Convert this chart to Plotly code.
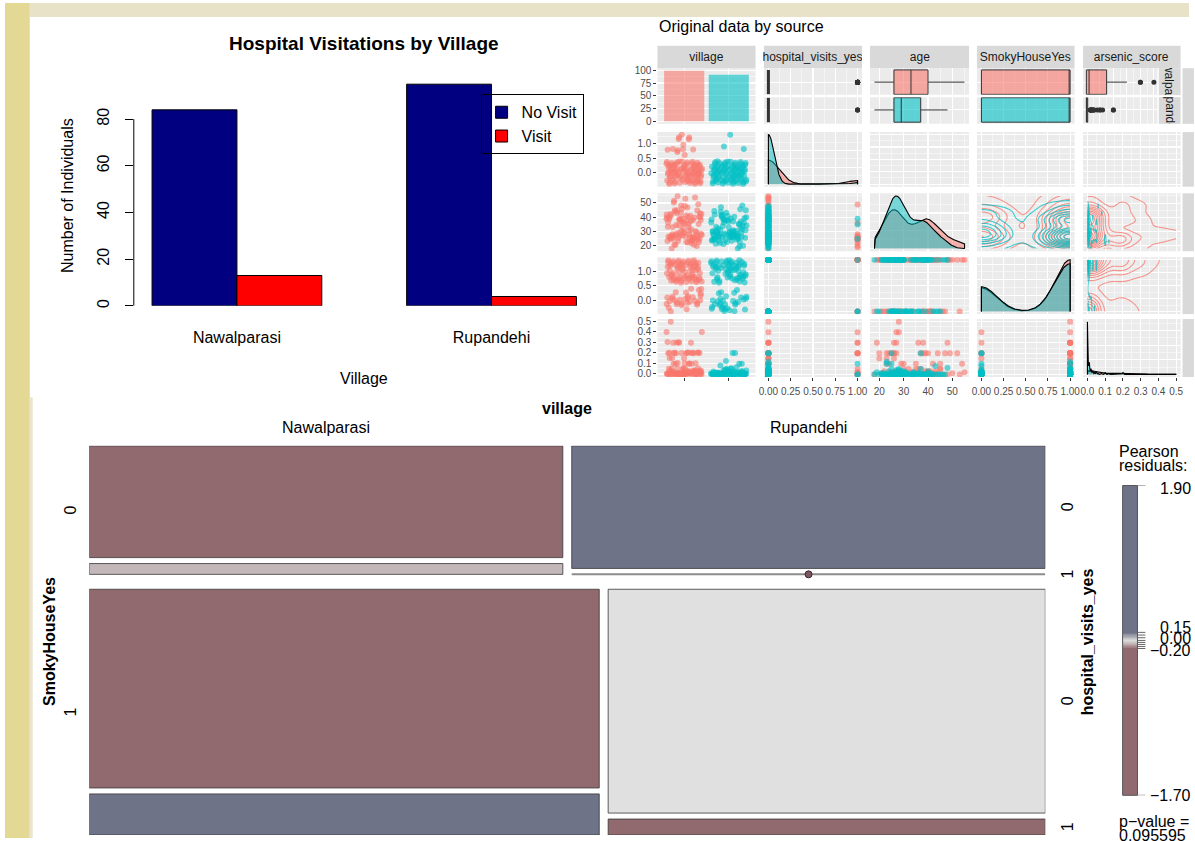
import numpy as np
import plotly.graph_objects as go

W, H = 1195, 841
FONT = "Liberation Sans, Arial, Helvetica, sans-serif"

# ============================ DATA ============================
# Bar chart: Hospital Visitations by Village
villages = ["Nawalparasi", "Rupandehi"]
no_visit = [84, 95]
visit = [13, 4]
bar_yticks = [0, 20, 40, 60, 80]

# Pairs plot: one entry per individual
nawal_age = [25, 40, 29, 22, 38, 26, 45, 33, 27, 41,
             24, 30, 39, 18, 35, 26, 48, 28, 40, 23,
             37, 25, 43, 31, 27, 50, 38, 24, 32, 21,
             42, 26, 29, 44, 39, 25, 36, 27, 40, 20,
             53, 28, 33, 24, 41, 45, 26, 30, 37, 23,
             39, 27, 47, 34, 25, 19, 40, 29, 42, 26,
             35, 38, 24, 49, 28, 43, 27, 22, 41, 30,
             33, 25, 37, 46, 26, 40, 21, 39, 52, 28,
             24, 35, 45, 27, 38, 29, 20, 42, 25, 48,
             34, 23, 40, 26, 43, 36, 54, 22, 55]
rup_age = [26, 31, 24, 38, 28, 40, 25, 33, 22, 36,
           27, 29, 44, 23, 35, 26, 41, 30, 19, 39,
           25, 28, 46, 27, 34, 24, 37, 29, 21, 42,
           26, 31, 38, 25, 48, 30, 27, 33, 20, 40,
           24, 29, 36, 26, 43, 28, 39, 27, 22, 32,
           25, 30, 41, 23, 45, 28, 37, 26, 34, 18,
           27, 31, 38, 25, 29, 47, 24, 35, 26, 40,
           30, 22, 28, 42, 27, 33, 23, 39, 44, 29,
           26, 36, 25, 31, 37, 28, 21, 34, 27, 38,
           30]
nawal_hosp = [int(ch) for ch in
              "0001000000" "1000000100" "0000100000" "0100000001" "0000001000"
              "0000010000" "0001000000" "0100000000" "1000000010" "000001000"]
rup_hosp = [int(ch) for ch in
            "0000000000" "0000100000" "0000000000" "0000000000" "0000000000"
            "1000000000" "0000000000" "0000000100" "0000000000" "0"]
nawal_smoky = [int(ch) for ch in
               "1101101110" "0110111011" "1011010111" "1101101101" "0111011010"
               "1101110110" "1011011101" "0110110111" "1101011011" "011011101"]
rup_smoky = [int(ch) for ch in
             "1011011010" "1101101101" "0110110110" "1011101101" "1101011010"
             "0111011011" "1010110111" "1101101010" "0110111011" "1"]
nawal_arsenic = [0.0, 0.2, 0.01, 0.0, 0.3, 0.02, 0.1, 0.0, 0.2, 0.03,
                 0.0, 0.05, 0.2, 0.0, 0.01, 0.15, 0.0, 0.4, 0.02, 0.1,
                 0.2, 0.0, 0.03, 0.0, 0.3, 0.01, 0.0, 0.2, 0.05, 0.0,
                 0.1, 0.02, 0.0, 0.2, 0.01, 0.0, 0.3, 0.03, 0.0, 0.2,
                 0.0, 0.5, 0.02, 0.1, 0.0, 0.05, 0.2, 0.01, 0.0, 0.15,
                 0.03, 0.0, 0.2, 0.02, 0.0, 0.3, 0.01, 0.1, 0.0, 0.2,
                 0.05, 0.0, 0.02, 0.2, 0.0, 0.01, 0.4, 0.03, 0.0, 0.1,
                 0.0, 0.2, 0.05, 0.0, 0.3, 0.02, 0.01, 0.0, 0.2, 0.03,
                 0.0, 0.1, 0.05, 0.0, 0.2, 0.01, 0.15, 0.0, 0.02, 0.3,
                 0.0, 0.2, 0.03, 0.01, 0.0, 0.05, 0.1, 0.0, 0.02]
rup_arsenic = [0.0, 0.01, 0.0, 0.0, 0.02, 0.0, 0.05, 0.0, 0.01, 0.0,
               0.0, 0.03, 0.0, 0.1, 0.0, 0.01, 0.0, 0.0, 0.02, 0.0,
               0.01, 0.0, 0.0, 0.04, 0.0, 0.0, 0.2, 0.0, 0.01, 0.0,
               0.0, 0.02, 0.0, 0.0, 0.06, 0.0, 0.01, 0.0, 0.0, 0.03,
               0.0, 0.0, 0.01, 0.0, 0.08, 0.0, 0.0, 0.02, 0.0, 0.0,
               0.1, 0.0, 0.01, 0.0, 0.0, 0.05, 0.0, 0.0, 0.02, 0.0,
               0.0, 0.01, 0.0, 0.2, 0.0, 0.0, 0.03, 0.0, 0.01, 0.0,
               0.0, 0.0, 0.04, 0.0, 0.01, 0.0, 0.12, 0.0, 0.0, 0.02,
               0.0, 0.01, 0.0, 0.0, 0.05, 0.0, 0.0, 0.01, 0.0, 0.0,
               0.03]

pair_keys = ["village", "hosp", "age", "smoky", "arsenic"]
pair_labels = ["village", "hospital_visits_yes", "age", "SmokyHouseYes", "arsenic_score"]
count_ticks = ([0, 25, 50, 75, 100], ["0", "25", "50", "75", "100"])
raw_ticks = {
    "village": ([1, 2], ["", ""]),
    "hosp": ([0, 0.25, 0.5, 0.75, 1], ["0.00", "0.25", "0.50", "0.75", "1.00"]),
    "age": ([20, 30, 40, 50], ["20", "30", "40", "50"]),
    "smoky": ([0, 0.25, 0.5, 0.75, 1], ["0.00", "0.25", "0.50", "0.75", "1.00"]),
    "arsenic": ([0, 0.1, 0.2, 0.3, 0.4, 0.5], ["0.0", "0.1", "0.2", "0.3", "0.4", "0.5"]),
}
jit_ticks = {
    "hosp": ([0, 0.5, 1], ["0.0", "0.5", "1.0"]),
    "age": ([20, 30, 40, 50], ["20", "30", "40", "50"]),
    "smoky": ([0, 0.5, 1], ["0.0", "0.5", "1.0"]),
    "arsenic": ([0, 0.1, 0.2, 0.3, 0.4, 0.5], ["0.0", "0.1", "0.2", "0.3", "0.4", "0.5"]),
}

# Mosaic: counts[SmokyHouseYes][village][hospital_visits_yes]
smoky_levels = ["0", "1"]
hosp_levels = ["0", "1"]
mosaic_counts = [[[31, 3], [34, 0]], [[58, 12], [56, 4]]]
mosaic_residuals = [[[-0.30, -0.07], [0.90, -1.70]], [[-0.50, 1.90], [0.00, -0.80]]]
legend_ticks = [1.90, 0.15, 0.00, -0.20, -1.70]
legend_minor_ticks = [0.10, 0.05, -0.05, -0.10, -0.15]
p_value = "0.095595"

# ============================ STYLE HELPERS ============================
RED, CYAN = "#F8766D", "#00BFC4"
SLATE, MAUVE, LGRAY = (110, 115, 135), (145, 106, 112), (224, 224, 224)


def rgba(hx, a):
    hx = hx.lstrip("#")
    return "rgba(%d,%d,%d,%.3f)" % (int(hx[0:2], 16), int(hx[2:4], 16), int(hx[4:6], 16), a)


def res_color(r):
    if r >= 0:
        f, tgt = min(r / 0.15, 1.0), SLATE
    else:
        f, tgt = min(-r / 0.20, 1.0), MAUVE
    c = [LGRAY[i] + f * (tgt[i] - LGRAY[i]) for i in range(3)]
    return "rgb(%d,%d,%d)" % tuple(int(round(v)) for v in c)


layout = {}
shapes, annotations, traces = [], [], []
axis_count = [0]


def new_axes(xpx, ypx, xa, ya):
    axis_count[0] += 1
    n = axis_count[0]
    s = "" if n == 1 else str(n)
    xa = dict(xa)
    ya = dict(ya)
    xa.update(domain=[xpx[0] / W, xpx[1] / W], anchor="y" + s)
    ya.update(domain=[1 - ypx[1] / H, 1 - ypx[0] / H], anchor="x" + s)
    layout["xaxis" + s] = xa
    layout["yaxis" + s] = ya
    return "x" + s, "y" + s


def ann(text, xpx, ypx, size, bold=False, angle=0, color="black", xanchor="center",
        yanchor="middle", **kw):
    d = dict(text=("<b>%s</b>" % text) if bold else text, x=xpx / W, y=1 - ypx / H,
             xref="paper", yref="paper", showarrow=False,
             font=dict(size=size, color=color, family=FONT), textangle=angle,
             xanchor=xanchor, yanchor=yanchor)
    d.update(kw)
    annotations.append(d)


def prect(x0, y0, x1, y1, color, layer="below", line=None):
    shapes.append(dict(type="rect", xref="paper", yref="paper", x0=x0 / W, x1=x1 / W,
                       y0=1 - y1 / H, y1=1 - y0 / H, fillcolor=color,
                       line=line or dict(width=0), layer=layer))


HIDDEN = dict(showgrid=False, zeroline=False, showline=False, showticklabels=False,
              ticks="", fixedrange=True)

# ============================ BACKGROUND ============================
prect(0, 0, 25, H, "#E3D995")
prect(25, 0, W, 14, "#E8E2C8")
prect(25, 397, 28, H, "#EAE5CF")

# ============================ BAR CHART ============================
bx, by = new_axes(
    (130, 600), (60, 305),
    dict(type="category", range=[-0.405, 1.424], showgrid=False, zeroline=False,
         showline=False, ticks="", tickfont=dict(size=16, color="black", family=FONT),
         ticklabelstandoff=20, fixedrange=True),
    dict(range=[0, 104.26], tickmode="array", tickvals=bar_yticks,
         ticktext=[str(v) for v in bar_yticks], tickangle=-90, ticks="outside", ticklen=8,
         tickwidth=1, tickcolor="black", showgrid=False, zeroline=False, showline=False,
         tickfont=dict(size=16, color="black", family=FONT), ticklabelstandoff=9,
         fixedrange=True))
traces.append(go.Bar(x=villages, y=no_visit, name="No Visit", xaxis=bx, yaxis=by,
                     marker=dict(color="#000080", line=dict(color="black", width=1)),
                     hoverinfo="skip"))
traces.append(go.Bar(x=villages, y=visit, name="Visit", xaxis=bx, yaxis=by,
                     marker=dict(color="#FF0000", line=dict(color="black", width=1)),
                     hoverinfo="skip"))
shapes.append(dict(type="line", xref="paper", yref=by, x0=130 / W, x1=130 / W,
                   y0=bar_yticks[0], y1=bar_yticks[-1], line=dict(color="black", width=1)))
ann("Hospital Visitations by Village", 362, 41, 19, bold=True)
ann("Village", 362, 378, 16)
ann("Number of Individuals", 63, 194, 16, angle=-90)

# ============================ PAIRS PLOT ============================
n_n = min(len(nawal_age), len(nawal_hosp), len(nawal_smoky), len(nawal_arsenic))
n_r = min(len(rup_age), len(rup_hosp), len(rup_smoky), len(rup_arsenic))
groups = [
    dict(name="Nawalparasi", color=RED, hosp=np.array(nawal_hosp[:n_n], float),
         age=np.array(nawal_age[:n_n], float), smoky=np.array(nawal_smoky[:n_n], float),
         arsenic=np.array(nawal_arsenic[:n_n], float)),
    dict(name="Rupandehi", color=CYAN, hosp=np.array(rup_hosp[:n_r], float),
         age=np.array(rup_age[:n_r], float), smoky=np.array(rup_smoky[:n_r], float),
         arsenic=np.array(rup_arsenic[:n_r], float)),
]
resolution = {"hosp": 1.0, "age": 1.0, "smoky": 1.0, "arsenic": 0.01}


def expand(lo, hi, f=0.05):
    d = (hi - lo) * f
    return [lo - d, hi + d]


def r2(n, offset):
    i = np.arange(n) + offset
    return ((0.5 + i * 0.7548776662) % 1.0) - 0.5, ((0.5 + i * 0.5698402910) % 1.0) - 0.5


def minors(br, rng):
    if len(br) < 2:
        return []
    step = br[1] - br[0]
    cand = [br[0] - step / 2] + [b + step / 2 for b in br]
    return [v for v in cand if rng[0] < v < rng[1]]


def nice_breaks(lo, hi):
    span = hi - lo
    raw = span / 4
    mag = 10 ** np.floor(np.log10(raw))
    step = 10 * mag
    for m in (1, 2, 2.5, 5, 10):
        if m * mag >= raw:
            step = m * mag
            break
    start = np.ceil(lo / step) * step
    return [float(v) for v in np.arange(start, hi + 1e-12, step)]


def paxis(rng, br, labels=None, show=False, minor=True):
    d = dict(range=rng, tickmode="array", tickvals=br,
             ticktext=labels if labels is not None else ["" for _ in br],
             showgrid=True, gridcolor="white", gridwidth=1.1, zeroline=False,
             showline=False, showticklabels=show, ticks="outside" if show else "",
             ticklen=3, tickwidth=1, tickcolor="#333333", tickangle=0,
             tickfont=dict(size=10, color="#4D4D4D", family=FONT), fixedrange=True)
    if minor:
        d["minor"] = dict(tickmode="array", tickvals=minors(br, rng), showgrid=True,
                          gridcolor="white", gridwidth=0.5, ticks="")
    return d


def bw_nrd0(x):
    sd = np.std(x, ddof=1)
    q = np.percentile(x, [25, 75])
    lo = min(sd, (q[1] - q[0]) / 1.34)
    if lo <= 0:
        lo = sd if sd > 0 else 1.0
    return 0.9 * lo * len(x) ** -0.2


def bw_nrd(x):
    sd = np.std(x, ddof=1)
    q = np.percentile(x, [25, 75])
    h = (q[1] - q[0]) / 1.34
    v = min(sd, h) if h > 0 else sd
    return 4 * 1.06 * v * len(x) ** -0.2


def kde1(x, grid, bw):
    return np.exp(-0.5 * ((grid[:, None] - x[None, :]) / bw) ** 2).sum(1) / (
        len(x) * bw * np.sqrt(2 * np.pi))


def kde2(x, y, xlim, ylim, n=100):
    hx, hy = bw_nrd(x) / 4, bw_nrd(y) / 4
    gx, gy = np.linspace(xlim[0], xlim[1], n), np.linspace(ylim[0], ylim[1], n)
    ax = np.exp(-0.5 * ((gx[:, None] - x[None, :]) / hx) ** 2) / (hx * np.sqrt(2 * np.pi))
    ay = np.exp(-0.5 * ((gy[:, None] - y[None, :]) / hy) ** 2) / (hy * np.sqrt(2 * np.pi))
    return gx, gy, ay @ ax.T / len(x)


num_keys = pair_keys[1:]
allv = {k: np.concatenate([g[k] for g in groups]) for k in num_keys}
data_lims = {k: [float(allv[k].min()), float(allv[k].max())] for k in num_keys}
rng = {k: expand(*data_lims[k]) for k in num_keys}
rng["village"] = [0.4, 2.6]

jit, jrng = {}, {}
for ri, k in enumerate(num_keys, start=1):
    for gi, g in enumerate(groups):
        jx, jy = r2(len(g[k]), 1000 * gi + 137 * ri)
        jit[(k, gi)] = (gi + 1 + 0.8 * jx, g[k] + 0.8 * resolution[k] * jy)
    ys = np.concatenate([jit[(k, gi)][1] for gi in range(2)])
    jrng[k] = expand(float(ys.min()), float(ys.max()))

col_x = [(658.5, 757.5), (766, 865), (873, 973), (981, 1079.5), (1088, 1186.5)]
row_y = [(65.7, 121.7), (130, 185), (191.7, 250), (256, 313.3), (318.3, 376.7)]
counts = [len(g["age"]) for g in groups]

for r in range(5):
    for c in range(5):
        kx, ky = pair_keys[c], pair_keys[r]
        xpx = col_x[c] if not (r == 0 and c == 4) else (col_x[4][0], 1163)
        ypx = row_y[r]
        xb, xl = raw_ticks[kx]
        xa = paxis(rng[kx], xb, xl, show=(r == 4), minor=(kx != "village"))
        if r == 4:
            xa["ticklabelstandoff"] = 2
        dens = None
        if r == 0:
            if c == 0:
                ya = paxis(expand(0, max(counts)), count_ticks[0], count_ticks[1], show=True)
            else:
                ya = paxis([-0.5, 1.5], [0, 1], None, False, minor=False)
        elif c == 0:
            yb, yl = jit_ticks[ky]
            ya = paxis(jrng[ky], yb, yl, show=True)
        elif r == c:
            grid = np.linspace(data_lims[ky][0], data_lims[ky][1], 512)
            dens = [kde1(g[ky], grid, bw_nrd0(g[ky])) for g in groups]
            dmax = max(float(d.max()) for d in dens)
            ya = paxis([-0.05 * dmax, 1.05 * dmax], nice_breaks(0, dmax), None, False)
        else:
            yb, yl = raw_ticks[ky]
            ya = paxis(rng[ky], yb, None, False)
        ax, ay = new_axes(xpx, ypx, xa, ya)
        shapes.append(dict(type="rect", xref=ax + " domain", yref=ay + " domain", x0=0, x1=1,
                           y0=0, y1=1, fillcolor="#EBEBEB", line=dict(width=0), layer="below"))

        if r == 0 and c == 0:
            traces.append(go.Bar(x=[1, 2], y=counts, width=[0.9, 0.9], xaxis=ax, yaxis=ay,
                                 marker=dict(color=[rgba(g["color"], 0.6) for g in groups],
                                             line=dict(width=0)),
                                 showlegend=False, hoverinfo="skip"))
        elif r == 0:
            degenerate = all(np.percentile(g[kx], 25) == np.percentile(g[kx], 75)
                             for g in groups)
            for gi, g in enumerate(groups):
                traces.append(go.Box(x=g[kx], y0=1 - gi, orientation="h", width=0.88,
                                     fillcolor=rgba(g["color"], 0.6),
                                     line=dict(color="#333333", width=3 if degenerate else 1),
                                     marker=dict(color="#333333", size=5),
                                     boxpoints="outliers", whiskerwidth=0, xaxis=ax,
                                     yaxis=ay, showlegend=False, hoverinfo="skip"))
            shapes.append(dict(type="line", xref=ax + " domain", yref=ay, x0=0, x1=1,
                               y0=0.5, y1=0.5, line=dict(color="white", width=2.5),
                               layer="above"))
        elif c == 0:
            for gi, g in enumerate(groups):
                xs, ys = jit[(ky, gi)]
                traces.append(go.Scatter(x=xs, y=ys, mode="markers", xaxis=ax, yaxis=ay,
                                         marker=dict(color=rgba(g["color"], 0.6), size=6),
                                         showlegend=False, hoverinfo="skip"))
        elif r == c:
            for gi, g in enumerate(groups):
                px_ = np.concatenate([[grid[0]], grid, [grid[-1]]])
                py_ = np.concatenate([[0], dens[gi], [0]])
                traces.append(go.Scatter(x=px_, y=py_, mode="lines", fill="toself",
                                         fillcolor=rgba(g["color"], 0.5),
                                         line=dict(color="black", width=1.1), xaxis=ax,
                                         yaxis=ay, showlegend=False, hoverinfo="skip"))
        elif r > c:
            for gi, g in enumerate(groups):
                traces.append(go.Scatter(x=g[kx], y=g[ky], mode="markers", xaxis=ax, yaxis=ay,
                                         marker=dict(color=rgba(g["color"], 0.6), size=6),
                                         showlegend=False, hoverinfo="skip"))
        elif r >= 2:
            for gi, g in enumerate(groups):
                gx, gy, z = kde2(g[kx], g[ky], data_lims[kx], data_lims[ky])
                zmax = float(z.max())
                col = rgba(g["color"], 0.75)
                traces.append(go.Contour(x=gx, y=gy, z=z, autocontour=False,
                                         contours=dict(coloring="lines", start=zmax * 0.04,
                                                       end=zmax * 0.98, size=zmax * 0.09,
                                                       showlabels=False),
                                         colorscale=[[0, col], [1, col]], showscale=False,
                                         line=dict(width=1.1), xaxis=ax, yaxis=ay,
                                         hoverinfo="skip"))
        else:
            # blank upper panel: an empty trace so the subplot (grey grid) is created
            traces.append(go.Scatter(x=[None], y=[None], mode="markers", xaxis=ax, yaxis=ay,
                                     showlegend=False, hoverinfo="skip"))

# strips
for c in range(5):
    prect(col_x[c][0], 43, col_x[c][1], 65.7, "#D9D9D9")
    ann(pair_labels[c], (col_x[c][0] + col_x[c][1]) / 2, 54.5, 12, color="#1A1A1A",
        width=col_x[c][1] - col_x[c][0], height=18)
for r in range(5):
    prect(1188.5, row_y[r][0], 1200, row_y[r][1], "#D9D9D9")
facet_y = [(65.7, 92.8), (94.8, 121.7)]
for gi, g in enumerate(groups):
    prect(1164.5, facet_y[gi][0], 1186.5, facet_y[gi][1], "#D9D9D9")
    ann(g["name"], 1175.5, (facet_y[gi][0] + facet_y[gi][1]) / 2, 12, color="#1A1A1A",
        angle=90, width=facet_y[gi][1] - facet_y[gi][0], height=18)
ann("Original data by source", 658, 24, 16, xanchor="left")

# ============================ MOSAIC ============================
mx, my = new_axes((85, 1050), (446, 838), dict(HIDDEN, range=[0, 1]),
                  dict(HIDDEN, range=[1, 0]))
gy1, gx2, gy3 = 15 / 392, 9 / 965, 6 / 392
N = sum(sum(sum(h) for h in v) for v in mosaic_counts)
tiles = []
y_cur = 0.0
row_centers = []
for s in range(2):
    ns = sum(sum(h) for h in mosaic_counts[s])
    hs = (1 - gy1) * ns / N
    row_centers.append(y_cur + hs / 2)
    x_cur = 0.0
    for v in range(2):
        nsv = sum(mosaic_counts[s][v])
        w = (1 - gx2) * nsv / ns
        hc = y_cur
        for h in range(2):
            ht = (hs - gy3) * mosaic_counts[s][v][h] / nsv
            tiles.append((s, v, h, x_cur, w, hc, ht))
            hc += ht + gy3
        x_cur += w + gx2
    y_cur += hs + gy1

bar_x0, bar_w, bar_yc, bar_h, bar_col = [], [], [], [], []
for (s, v, h, x0, w, y0, ht) in tiles:
    if mosaic_counts[s][v][h] > 0:
        bar_x0.append(x0)
        bar_w.append(w)
        bar_yc.append(y0 + ht / 2)
        bar_h.append(ht)
        bar_col.append(res_color(mosaic_residuals[s][v][h]))
    else:
        traces.append(go.Scatter(x=[x0, x0 + w], y=[y0, y0], mode="lines", xaxis=mx, yaxis=my,
                                 line=dict(color="#8C8C8C", width=2), showlegend=False,
                                 hoverinfo="skip"))
        traces.append(go.Scatter(x=[x0 + w / 2], y=[y0], mode="markers", xaxis=mx, yaxis=my,
                                 marker=dict(color="#7D5560", size=7,
                                             line=dict(color="#3A2A2E", width=1)),
                                 showlegend=False, hoverinfo="skip"))
traces.append(go.Bar(orientation="h", x=bar_w, base=bar_x0, y=bar_yc, width=bar_h,
                     xaxis=mx, yaxis=my,
                     marker=dict(color=bar_col, line=dict(color="rgba(55,55,55,0.8)", width=1)),
                     showlegend=False, hoverinfo="skip"))

for (s, v, h, x0, w, y0, ht) in tiles:
    if s == 0 and h == 0:
        annotations.append(dict(text=villages[v], x=x0 + w / 2, xref=mx, y=1 - 428 / H,
                                yref="paper", showarrow=False, xanchor="center",
                                yanchor="middle",
                                font=dict(size=16, color="black", family=FONT)))
    if v == 1:
        annotations.append(dict(text=hosp_levels[h], x=1072 / W, xref="paper",
                                y=y0 + ht / 2, yref=my, showarrow=False, textangle=-90,
                                xanchor="center", yanchor="middle",
                                font=dict(size=16, color="black", family=FONT)))
for s in range(2):
    annotations.append(dict(text=smoky_levels[s], x=66 / W, xref="paper", y=row_centers[s],
                            yref=my, showarrow=False, textangle=-90, xanchor="center",
                            yanchor="middle",
                            font=dict(size=16, color="black", family=FONT)))
ann("village", 567, 408, 16, bold=True)
ann("SmokyHouseYes", 45, 643, 16, bold=True, angle=-90)
ann("hospital_visits_yes", 1092, 643, 16, bold=True, angle=-90)

# Pearson residual legend
lx, ly = new_axes((1128, 1143), (486, 798), dict(HIDDEN, range=[-0.5, 0.5]),
                  dict(HIDDEN, range=[0, 1]))
knot_vals = sorted(legend_ticks)
knot_pos = [0.0, 0.474, 0.5, 0.526, 1.0]
pos = np.linspace(0, 1, 400)
zvals = np.interp(pos, knot_pos, knot_vals)
zmin, zmax = min(legend_ticks), max(legend_ticks)
cs_vals = [zmin, -0.2, -0.1, 0.0, 0.075, 0.15, zmax]
colorscale = [[(v - zmin) / (zmax - zmin), res_color(v)] for v in cs_vals]
traces.append(go.Heatmap(x=[0], y=pos, z=zvals[:, None], colorscale=colorscale, zmin=zmin,
                         zmax=zmax, showscale=False, xaxis=lx, yaxis=ly, hoverinfo="skip"))
shapes.append(dict(type="rect", xref=lx + " domain", yref=ly + " domain", x0=0, x1=1, y0=0,
                   y1=1, line=dict(color="#555555", width=1), layer="above"))
for v in legend_ticks + legend_minor_ticks:
    p = float(np.interp(v, knot_vals, knot_pos))
    shapes.append(dict(type="line", xref="paper", yref=ly, x0=1143 / W, x1=1151 / W, y0=p,
                       y1=p, line=dict(color="#666666", width=1)))
label_pos = [0.99, 0.542, 0.505, 0.468, 0.0]
for v, p in zip(legend_ticks, label_pos):
    annotations.append(dict(text=("%.2f" % v).replace("-", "\u2212"), x=1199 / W, xref="paper",
                            y=p, yref=ly, xanchor="right", yanchor="middle", showarrow=False,
                            font=dict(size=16, color="black", family=FONT)))
ann("Pearson", 1122, 452, 16, xanchor="left")
ann("residuals:", 1122, 466, 16, xanchor="left")
ann("p\u2212value =", 1122, 824, 16, xanchor="left")
ann(p_value, 1122, 838, 16, xanchor="left")

# ============================ FIGURE ============================
fig = go.Figure(data=traces)
fig.update_layout(
    width=W, height=H, autosize=False, margin=dict(l=0, r=0, t=0, b=0, pad=0),
    paper_bgcolor="white", plot_bgcolor="white",
    font=dict(family=FONT, color="black"),
    barmode="group", bargap=1 / 3, bargroupgap=0,
    showlegend=True, hovermode=False,
    legend=dict(x=480 / W, y=1 - 92 / H, xanchor="left", yanchor="top",
                bgcolor="rgba(0,0,0,0)", bordercolor="black", borderwidth=1,
                font=dict(size=16, color="black", family=FONT), traceorder="normal"),
    shapes=shapes, annotations=annotations,
    **layout)
fig.write_html(
    "out.html",
    config={"displayModeBar": False, "staticPlot": True},
    post_script=("document.body.style.margin='0px';document.body.style.padding='0px';"
                 "document.documentElement.style.overflow='hidden';"
                 "document.body.style.overflow='hidden';"))
